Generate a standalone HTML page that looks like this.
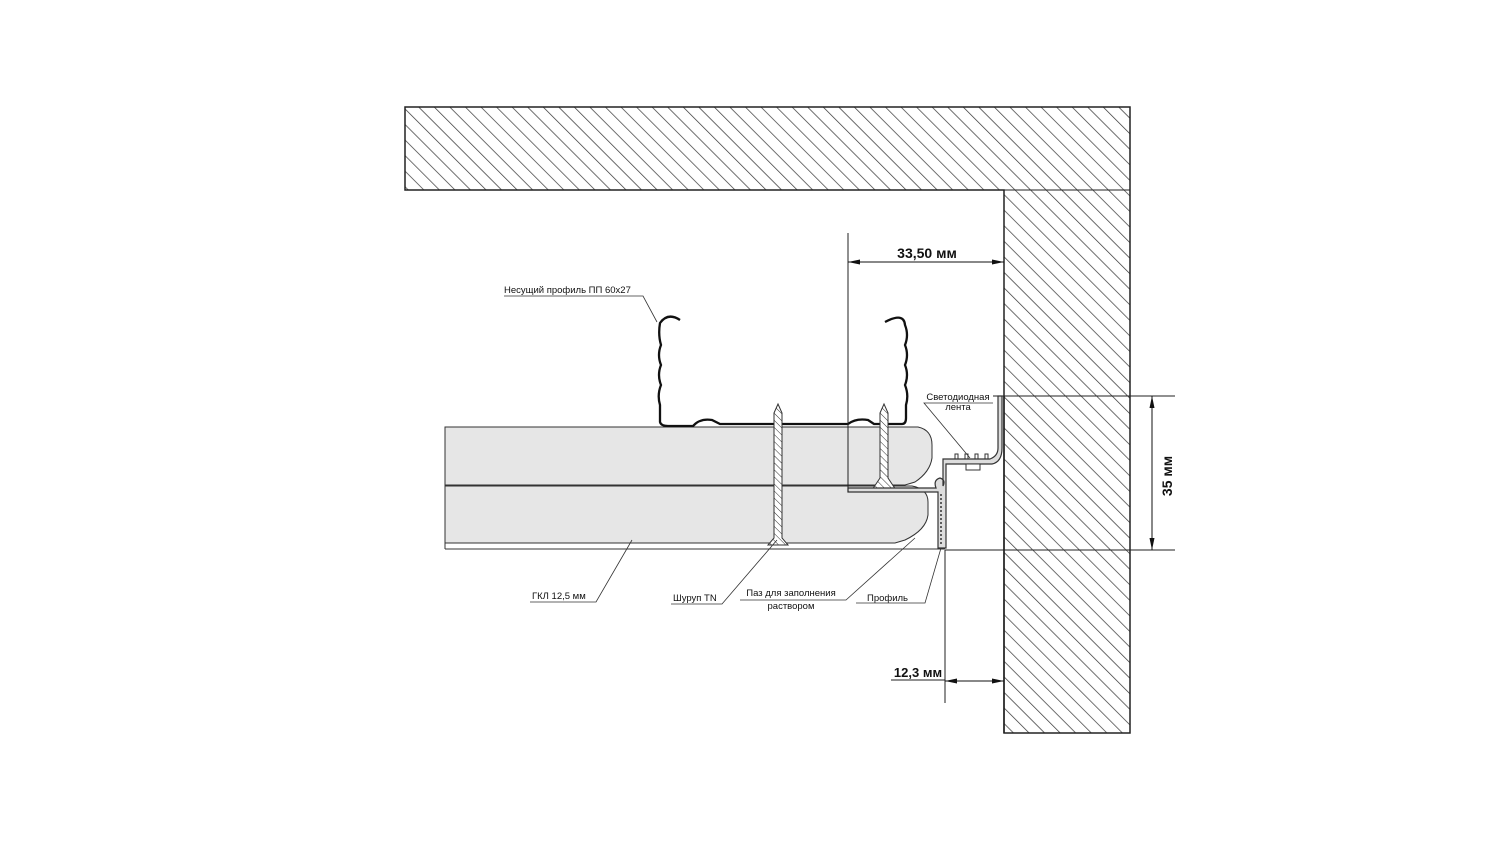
<!DOCTYPE html>
<html><head><meta charset="utf-8"><style>
html,body{margin:0;padding:0;background:#fff;}
svg{display:block;}
text{font-family:"Liberation Sans",Arial,sans-serif;fill:#111;}
</style></head><body>
<svg width="1500" height="845" viewBox="0 0 1500 845" xmlns="http://www.w3.org/2000/svg">
<defs>
<pattern id="h" patternUnits="userSpaceOnUse" width="11" height="11" patternTransform="rotate(-45)">
<rect width="11" height="11" fill="#fff"/><line x1="0" y1="0" x2="0" y2="11" stroke="#333" stroke-width="1.4"/>
</pattern>
<pattern id="sh" patternUnits="userSpaceOnUse" width="5" height="5" patternTransform="rotate(-45)">
<rect width="5" height="5" fill="#fff"/><line x1="0" y1="0" x2="0" y2="5" stroke="#333" stroke-width="1"/>
</pattern>
<marker id="ar" markerWidth="12" markerHeight="6" refX="12" refY="3" orient="auto-start-reverse" markerUnits="userSpaceOnUse">
<path d="M0,0.5 L12,3 L0,5.5 Z" fill="#111"/></marker>
</defs>

<!-- walls -->
<path d="M405,107 H1130 V733 H1004 V190 H405 Z" fill="url(#h)" stroke="#222" stroke-width="1.5"/>
<line x1="1004" y1="190" x2="1130" y2="190" stroke="#222" stroke-width="1"/>
<line x1="993" y1="396" x2="1175" y2="396" stroke="#222" stroke-width="1"/>
<line x1="945" y1="550" x2="1175" y2="550" stroke="#222" stroke-width="1"/>
<line x1="1004" y1="396" x2="1004" y2="733" stroke="#222" stroke-width="1.5"/>

<!-- boards -->
<path d="M445,427 H918 Q932,430 932,445 V458 Q930,472 915,482 L905,485 H445 Z" fill="#e6e6e6" stroke="#333" stroke-width="1"/>
<path d="M445,486 H912 Q928,489 928,502 V515 Q926,530 905,540 L895,543 H445 Z" fill="#e6e6e6" stroke="#333" stroke-width="1"/>
<line x1="445" y1="543" x2="445" y2="549" stroke="#333"/>
<line x1="445" y1="549" x2="945" y2="549" stroke="#333"/>

<!-- profile PP -->
<path d="M680,320 Q668,312 660,323 Q658,335 661,345 Q657,355 661,365 Q657,375 661,385 Q657,395 660,405 V422 Q661,426 668,426 H693 Q700,418 712,420 L720,424 H848 Q856,418 868,420 L874,424 H902 Q906,424 906,418 V405 Q909,395 905,385 Q909,375 905,365 Q909,355 905,345 Q909,335 905,325 Q904,312 885,322" fill="none" stroke="#111" stroke-width="2.3"/>

<!-- screws -->
<path d="M774,413 L778,404 L782,413 V538 L788,545 H768 L774,538 Z" fill="url(#sh)" stroke="#333" stroke-width="1"/>
<path d="M880,413 L884,404 L888,413 V478 L896,490 H872 L880,478 Z" fill="url(#sh)" stroke="#333" stroke-width="1"/>

<!-- LED profile -->
<path d="M848,488 H936 Q933,480 940,478 Q946,480 943,486 V459 H990 Q998,456 998,448 V396 H1002 V448 Q1002,462 992,464 H946 V548 H938 V492 H848 Z" fill="#ddd" stroke="#333" stroke-width="1.2"/>
<path d="M941,494 V546" stroke="#333" stroke-width="1.5" stroke-dasharray="2,2"/>
<path d="M955,459 v-5 h3 v5 M965,459 v-5 h3 v5 M975,459 v-5 h3 v5 M985,459 v-5 h3 v5" fill="none" stroke="#333"/>
<rect x="966" y="464" width="14" height="6" fill="#fff" stroke="#333"/>

<!-- dims -->
<line x1="848" y1="233" x2="848" y2="492" stroke="#222" stroke-width="1"/>
<line x1="848" y1="262" x2="1004" y2="262" stroke="#111" stroke-width="1" marker-start="url(#ar)" marker-end="url(#ar)"/>
<text x="927" y="258" font-size="14" font-weight="bold" text-anchor="middle">33,50 мм</text>
<line x1="1152" y1="396" x2="1152" y2="550" stroke="#111" stroke-width="1" marker-start="url(#ar)" marker-end="url(#ar)"/>
<text x="0" y="0" font-size="14" font-weight="bold" text-anchor="middle" transform="translate(1172,476) rotate(-90)">35 мм</text>
<line x1="945" y1="550" x2="945" y2="703" stroke="#222" stroke-width="1"/>
<line x1="945" y1="681" x2="1004" y2="681" stroke="#111" stroke-width="1" marker-start="url(#ar)" marker-end="url(#ar)"/>
<text x="918" y="677" font-size="13" font-weight="bold" text-anchor="middle">12,3 мм</text>
<line x1="891" y1="680" x2="945" y2="680" stroke="#222"/>

<!-- labels -->
<g font-size="9.5" stroke="#333" stroke-width="0.8">
<text x="504" y="293" stroke="none">Несущий профиль ПП 60х27</text>
<polyline points="504,296 643,296 657,322" fill="none"/>
<text x="532" y="599" stroke="none">ГКЛ 12,5 мм</text>
<polyline points="530,602 596,602 632,540" fill="none"/>
<text x="673" y="601" stroke="none">Шуруп TN</text>
<polyline points="671,604 722,604 777,540" fill="none"/>
<text x="791" y="596" stroke="none" text-anchor="middle">Паз для заполнения</text>
<text x="791" y="609" stroke="none" text-anchor="middle">раствором</text>
<polyline points="740,600 846,600 915,538" fill="none"/>
<text x="867" y="601" stroke="none">Профиль</text>
<polyline points="856,603 925,603 941,548" fill="none"/>
<text x="958" y="400" stroke="none" text-anchor="middle">Светодиодная</text>
<text x="958" y="410" stroke="none" text-anchor="middle">лента</text>
<polyline points="993,403 924,403 970,458" fill="none"/>
</g>
</svg>
</body></html>
